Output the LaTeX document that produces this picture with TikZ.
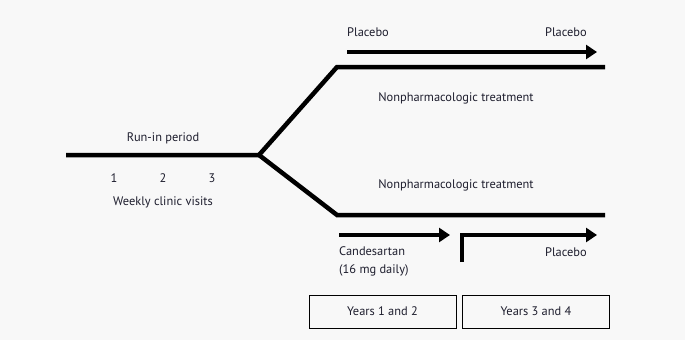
\documentclass[tikz,border=0pt]{standalone}
\usepackage{fontspec}
\setmainfont{PT Sans}
\usetikzlibrary{arrows.meta}
\definecolor{bg}{HTML}{F8F8F8}
\definecolor{txt}{HTML}{1E1E2E}
\begin{document}
\begin{tikzpicture}[x=1pt,y=-1pt,
  thick line/.style={line width=4.5pt},
  arr/.style={line width=4.5pt,-{Triangle[length=11pt,width=14pt]}},
  lbl/.style={inner sep=0pt,text=txt,font=\fontsize{12.4}{14}\selectfont},
  yearbox/.style={draw,line width=0.9pt,minimum width=147pt,minimum height=33pt,inner sep=0pt,text=txt,font=\fontsize{12.4}{14}\selectfont}]
\fill[bg] (0,0) rectangle (685,340);
\useasboundingbox (0,0) rectangle (685,340);
% main lines
\coordinate (start) at (66,155);
\coordinate (split) at (259,155);
\coordinate (ut) at (337,67);
\coordinate (ue) at (605,67);
\coordinate (lt) at (337,215);
\coordinate (le) at (605,215);
\draw[thick line,line join=miter] (start) -- (split) -- (ut) -- (ue);
\draw[thick line,line join=miter] (split) -- (lt) -- (le);
% arrows
\coordinate (pa1) at (347,52);
\coordinate (pa2) at (597,52);
\draw[arr] (pa1) -- (pa2);
\coordinate (ca1) at (339,235);
\coordinate (ca2) at (450,235);
\draw[arr] (ca1) -- (ca2);
\coordinate (pb0) at (462,262);
\coordinate (pb1) at (462,235);
\coordinate (pb2) at (597,235);
\draw[arr,line join=miter] (pb0) -- (pb1) -- (pb2);
% labels
\node[lbl,anchor=west] (plac1) at (347,32) {Placebo};
\node[lbl,anchor=east] (plac2) at (587,32) {Placebo};
\node[lbl] (np1) at (456,98) {Nonpharmacologic treatment};
\node[lbl] (np2) at (456,185) {Nonpharmacologic treatment};
\node[lbl] (runin) at (163,138) {Run-in period};
\node[lbl] (v1) at (114,178) {1};
\node[lbl] (v2) at (163,178) {2};
\node[lbl] (v3) at (212,178) {3};
\node[lbl] (wcv) at (163,202) {Weekly clinic visits};
\node[lbl,anchor=west] (cand) at (339,251) {Candesartan};
\node[lbl,anchor=west] (dose) at (339,270) {(16 mg daily)};
\node[lbl,anchor=east] (plac3) at (587,252) {Placebo};
% boxes
\node[yearbox] (y12) at (382.5,311.5) {Years 1 and 2};
\node[yearbox] (y34) at (536,311.5) {Years 3 and 4};
\end{tikzpicture}
\end{document}
